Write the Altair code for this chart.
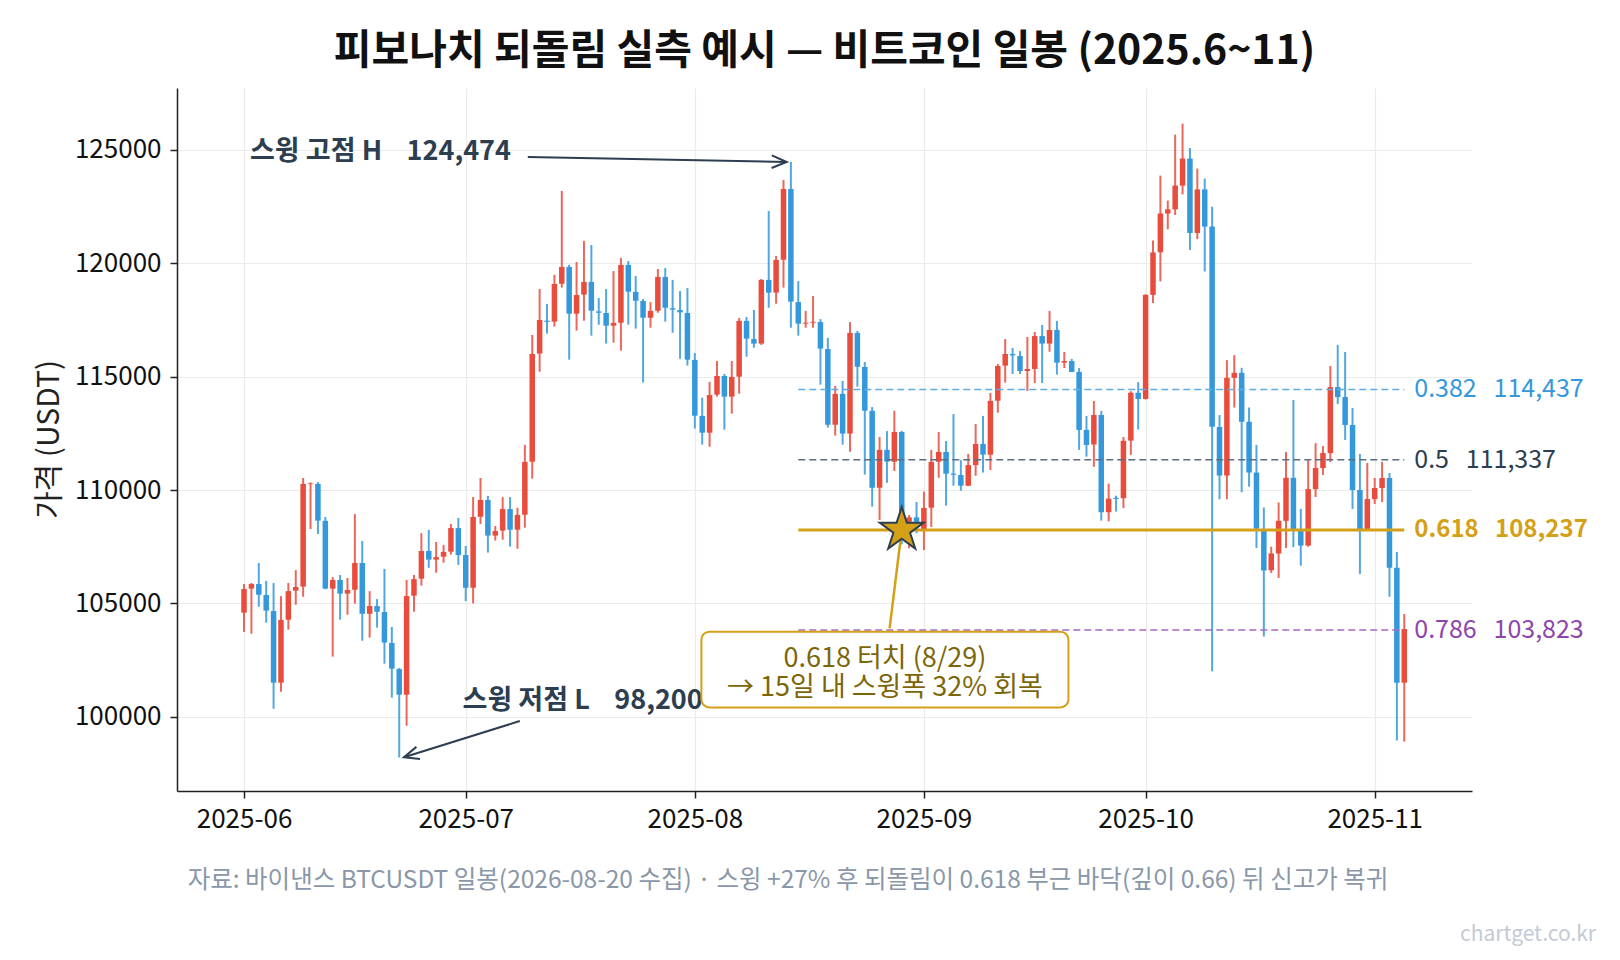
import altair as alt
import pandas as pd

FONT = "Noto Sans CJK KR"
UP, DOWN = "#e74c3c", "#3498db"
GOLD = "#d4a017"
NAVY = "#2c3e50"

# daily candles BTCUSDT, 2025-06-01 .. 2025-11-05
opens = [104590, 105650, 105850, 105370, 104660, 101500, 104280, 105560, 105740, 110260,
         110270, 108640, 105650, 106030, 105430, 105600, 106780, 104540, 104880, 104620,
         103250, 102100, 100970, 105340, 106090, 107310, 106930, 107060, 107280, 108320,
         107130, 105690, 108820, 109560, 107990, 108210, 109160, 108250, 108910, 111250,
         116020, 117470, 117430, 119100, 119840, 117780, 118620, 119180, 117880, 117810,
         117250, 117380, 119930, 118740, 118340, 117600, 117910, 119400, 118020, 117940, 117810,
         115740, 113270, 112530, 114210, 115030, 114120, 115000, 117460, 116660, 116460,
         119270, 118710, 120160, 123280, 118290, 117340, 117380, 117410, 116220, 112880,
         114240, 112490, 116930, 115430, 113490, 110100, 111770, 111250, 112560, 108600, 108790,
         108280, 109220, 111250, 111680, 110720, 110660, 110190, 111100, 112030, 111560,
         113940, 115490, 116000, 115910, 115250, 115340, 116790, 116460, 117060, 115620,
         115690, 115210, 112650, 112010, 113310, 109020, 109660, 109640, 112180, 114290,
         114020, 118610, 120490, 122200, 122380, 123430, 124620, 121340, 123260, 121620,
         112780, 110640, 114950, 115170, 113010, 110770, 108200, 106460, 107200, 108640,
         110540, 108260, 107550, 110040, 110970, 111630, 114540, 114100, 112870, 110000, 108240,
         109600, 110090, 110530, 106570, 101500]
highs = [105850, 105900, 106780, 105990, 105900, 105320, 105900, 106470, 110530, 110340,
         110350, 108810, 106160, 106250, 106120, 108940, 107750, 105540, 105190, 106520,
         103960, 102150, 106030, 106250, 108100, 108240, 107710, 107570, 108500, 108770,
         107530, 109690, 110530, 109740, 108410, 109690, 109690, 109210, 111990, 116840,
         118870, 118210, 119490, 123190, 119930, 120060, 120990, 120810, 118470, 118870,
         119660, 120240, 120100, 119440, 118430, 118290, 119750, 119790, 119270, 118780, 118910,
         116040, 114070, 114770, 115690, 115120, 115690, 117590, 117630, 117940, 119310,
         122310, 120320, 123680, 124474, 119220, 117900, 118560, 117540, 116710, 114590,
         114810, 117410, 117020, 115650, 113660, 112340, 112600, 113490, 112610, 108900, 109470,
         109930, 111770, 112560, 112160, 113350, 111320, 111590, 112910, 113270, 114280,
         115560, 116660, 116270, 116130, 116750, 116970, 117280, 117900, 117460, 116090,
         115780, 115380, 113270, 113930, 113490, 110280, 109750, 112340, 114360, 114760,
         118640, 121010, 123870, 122770, 125680, 126160, 125090, 124180, 123740, 122500,
         113310, 115730, 115950, 115390, 113640, 111990, 109230, 107500, 109450, 111680,
         113970, 109170, 111320, 112070, 111940, 115470, 116400, 116090, 113620, 111590, 111190,
         110530, 111240, 110750, 107270, 104530]
lows = [103740, 103660, 104850, 104150, 100350, 101100, 103840, 104940, 105290, 108280,
        108060, 105620, 102650, 104280, 104500, 104990, 103350, 103490, 103930, 102340,
        100840, 98200, 99600, 104630, 105780, 106570, 106350, 106790, 107150, 106690,
        105100, 105000, 108500, 107240, 107770, 107810, 107500, 107410, 108340, 110500,
        115220, 116900, 117210, 118930, 115750, 117030, 117470, 116810, 117290, 116460,
        116500, 116150, 117290, 117120, 114740, 117160, 117820, 117430, 116940, 115790, 115490,
        112710, 112000, 111910, 114120, 112660, 113370, 114250, 115880, 116280, 116400,
        118040, 118220, 118930, 117160, 116810, 117160, 117160, 114650, 112750, 112400,
        112000, 111690, 114560, 110680, 109270, 108680, 110320, 110840, 107600, 107430, 108090,
        107350, 108370, 110540, 109310, 110190, 109970, 110170, 110630, 110770, 110880,
        113410, 114740, 115120, 115120, 114370, 114720, 114720, 116100, 115090, 115380,
        115200, 111770, 111470, 111020, 108650, 108620, 109050, 109200, 111550, 112670,
        113990, 118250, 119200, 121500, 122130, 123040, 120590, 121070, 119640, 102000,
        109590, 109590, 113640, 109900, 110150, 107440, 103540, 106340, 106120, 107440,
        107480, 106660, 107500, 109690, 110660, 111240, 113790, 112210, 109160, 106290, 108230,
        109380, 109470, 105290, 98950, 98900]
closes = [105630, 105850, 105380, 104680, 101500, 104270, 105540, 105720, 110270, 110290,
          108650, 105650, 106030, 105430, 105590, 106780, 104540, 104880, 104630, 103270,
          102120, 100970, 105320, 106070, 107310, 106930, 107040, 107270, 108320, 107130,
          105690, 108810, 109560, 107990, 108190, 109160, 108250, 108900, 111240, 116000,
          117500, 117420, 119090, 119840, 117780, 118600, 119180, 117910, 117820, 117250,
          117370, 119930, 118750, 118350, 117600, 117900, 119400, 118040, 117960, 117840, 115750,
          113280, 112530, 114190, 115030, 114120, 114990, 117460, 116680, 116460, 119270,
          118710, 120150, 123280, 118310, 117340, 117380, 117420, 116240, 112880, 114240,
          112490, 116930, 115440, 113500, 110100, 111770, 111250, 112560, 108400, 108790, 108600,
          109210, 111240, 111680, 110720, 110670, 110190, 111100, 112030, 111560, 113930,
          115470, 116000, 115940, 115250, 115340, 116790, 116460, 117060, 115620, 115690,
          115210, 112650, 111990, 113310, 109020, 109620, 109610, 112170, 114290, 114020,
          118610, 120480, 122200, 122380, 123430, 124620, 121340, 123260, 121620, 112790,
          110640, 114950, 115170, 113010, 110770, 108300, 106450, 107200, 108640, 110540,
          108280, 107550, 110040, 110970, 111630, 114540, 114100, 112870, 110000, 108240, 109600,
          110090, 110530, 106570, 101500, 103870]
dates = pd.date_range("2025-06-01", "2025-11-05", freq="D").strftime("%Y-%m-%dT00:00:00")

candles = pd.DataFrame({"date": dates, "open": opens, "high": highs, "low": lows, "close": closes})
candles["dir"] = ["up" if c >= o else "down" for o, c in zip(opens, closes)]
candles["body_lo"] = candles[["open", "close"]].min(axis=1)
candles["body_hi"] = candles[["open", "close"]].max(axis=1)

# fibonacci levels of the swing 98,200 -> 124,474
fib_ratios = [0.382, 0.5, 0.618, 0.786]
fib_prices = [114437, 111337, 108237, 103823]
fib_line_colors = ["#5dade2", "#5d6d7e", GOLD, "#a569bd"]
fib_text_colors = ["#3498db", NAVY, GOLD, "#8e44ad"]
fib_start, fib_end = "2025-08-15T00:00:00", "2025-11-05T00:00:00"

title = "피보나치 되돌림 실측 예시 — 비트코인 일봉 (2025.6~11)"
footer = ("자료: 바이낸스 BTCUSDT 일봉(2026-08-20 수집) · 스윙 +27% 후 되돌림이 "
          "0.618 부근 바닥(깊이 0.66) 뒤 신고가 복귀")
watermark = "chartget.co.kr"

x_scale = alt.Scale(domain=[alt.DateTime(year=2025, month=5, date=22, hours=22, minutes=20),
                            alt.DateTime(year=2025, month=11, date=14, hours=4)])
y_scale = alt.Scale(domain=[96722, 127735], nice=False, zero=False)

x_axis = alt.Axis(values=[alt.DateTime(year=2025, month=m, date=1) for m in range(6, 12)],
                  format="%Y-%m", title=None, labelPadding=8)
y_axis = alt.Axis(values=list(range(100000, 125001, 5000)), format="d", title="가격 (USDT)",
                  labelPadding=9, titleX=-128, titleY=351, titleAngle=270,
                  titleBaseline="middle", titleAlign="center")


def X(field):
    return alt.X(field, type="temporal", scale=x_scale, axis=x_axis)


def Y(field):
    return alt.Y(field, type="quantitative", scale=y_scale, axis=y_axis)


color = alt.Color("dir:N", scale=alt.Scale(domain=["up", "down"], range=[UP, DOWN]), legend=None)

wicks = alt.Chart(candles).mark_rule(strokeWidth=2, opacity=0.85).encode(
    x=X("date"), y=Y("low"), y2="high", color=color)
bodies = alt.Chart(candles).mark_rule(strokeWidth=5.5).encode(
    x=X("date"), y=Y("body_lo"), y2="body_hi", color=color)

layers = [wicks, bodies]

for r, p, lc, tc in zip(fib_ratios, fib_prices, fib_line_colors, fib_text_colors):
    df = pd.DataFrame({"start": [fib_start], "end": [fib_end], "price": [p],
                       "label": [f"{r}\u00a0\u00a0\u00a0{p:,}"]})
    if r == 0.618:
        line = alt.Chart(df).mark_rule(color=lc, strokeWidth=3)
    else:
        line = alt.Chart(df).mark_rule(color=lc, strokeWidth=1.6, strokeDash=[7, 4])
    layers.append(line.encode(x=X("start"), x2="end", y=Y("price")))
    layers.append(alt.Chart(df).mark_text(
        align="left", baseline="middle", dx=10, font=FONT,
        fontSize=24 if r == 0.618 else 25, color=tc,
        fontWeight="bold" if r == 0.618 else "normal").encode(
        x=X("end"), y=Y("price"), text="label"))

# swing high / low annotations
notes = pd.DataFrame({
    "x": ["2025-06-01T19:30:00", "2025-06-30T13:40:00"],
    "y": [124900, 100690],
    "text": ["스윙 고점 H\u00a0\u00a0\u00a0\u00a0124,474", "스윙 저점 L\u00a0\u00a0\u00a0\u00a098,200"],
})
arrows = pd.DataFrame({
    "x": ["2025-07-09T09:36:00", "2025-07-08T07:40:00"],
    "y": [124691, 99809],
    "x2": ["2025-08-13T10:20:00", "2025-06-22T15:20:00"],
    "y2": [124470, 98208],
    "angle": [1.1, 162.8],
})
chevron = "M-1,-0.42L0,0L-1,0.42"
layers.append(alt.Chart(arrows).mark_rule(color=NAVY, strokeWidth=2).encode(
    x=X("x"), x2="x2", y=Y("y"), y2="y2"))
layers.append(alt.Chart(arrows).mark_point(shape=chevron, filled=False, size=900,
                                           color=NAVY, strokeWidth=2, opacity=1).encode(
    x=X("x2"), y=Y("y2"), angle=alt.Angle("angle:Q", scale=None)))
layers.append(alt.Chart(notes).mark_text(align="left", baseline="middle", font=FONT,
                                         fontSize=27, fontWeight="bold", color=NAVY).encode(
    x=X("x"), y=Y("y"), text="text"))

# 0.618 touch marker and callout box
touch = pd.DataFrame({"x": ["2025-08-29T00:00:00"], "y": [108237],
                      "bx": ["2025-08-27T08:38:00"], "by": [103899]})
box = pd.DataFrame({"x": ["2025-08-01T21:22:00"], "x2": ["2025-09-20T13:26:00"],
                    "y": [103749], "y2": [100410],
                    "cx": ["2025-08-26T17:30:00"], "cy": [102560],
                    "text": ["0.618 터치 (8/29)\n→ 15일 내 스윙폭 32% 회복"]})
star = ("M0,-1L0.2245,-0.309L0.9511,-0.309L0.3633,0.118L0.5878,0.809L0,0.382"
        "L-0.5878,0.809L-0.3633,0.118L-0.9511,-0.309L-0.2245,-0.309Z")
layers.append(alt.Chart(touch).mark_rule(color=GOLD, strokeWidth=2.5).encode(
    x=X("bx"), x2="x", y=Y("by"), y2="y"))
layers.append(alt.Chart(touch).mark_point(shape=star, filled=True, size=2116, fill=GOLD,
                                          stroke=NAVY, strokeWidth=2, opacity=1).encode(
    x=X("x"), y=Y("y")))
layers.append(alt.Chart(box).mark_rect(cornerRadius=8, fill="white", fillOpacity=0.92,
                                       stroke=GOLD, strokeWidth=2).encode(
    x=X("x"), x2="x2", y=Y("y"), y2="y2"))
layers.append(alt.Chart(box).mark_text(align="center", baseline="middle", lineBreak="\n",
                                       lineHeight=29, font=FONT, fontSize=27,
                                       color="#7d6608").encode(
    x=X("cx"), y=Y("cy"), text="text"))

# footer and watermark
layers.append(alt.Chart(pd.DataFrame({"t": [footer]})).mark_text(
    align="center", baseline="alphabetic", font=FONT, fontSize=24.5, color="#8a97a8").encode(
    x=alt.value(611), y=alt.value(800), text="t:N"))
layers.append(alt.Chart(pd.DataFrame({"t": [watermark]})).mark_text(
    align="right", baseline="alphabetic", font=FONT, fontSize=21, color="#c3cad4").encode(
    x=alt.value(1419), y=alt.value(853), text="t:N"))

chart = alt.layer(*layers).properties(
    width=1295, height=703,
    title=alt.TitleParams(title, font=FONT, fontSize=41, fontWeight="bold", color="#111111",
                          anchor="middle", offset=15),
    padding={"left": 169, "top": 80, "right": 140, "bottom": 161},
    autosize=alt.AutoSizeParams(type="none"),
).configure_view(stroke=None).configure_axis(
    labelFont=FONT, labelFontSize=26, labelColor="#111111",
    titleFont=FONT, titleFontSize=30, titleFontWeight="normal", titleColor="#222222",
    domainColor="#222222", domainWidth=1.5, tickColor="#222222", tickWidth=1.5, tickSize=7,
    gridColor="#ebebeb", gridWidth=1.2,
)

chart.save("out.html", embed_options={"renderer": "svg", "actions": False})
